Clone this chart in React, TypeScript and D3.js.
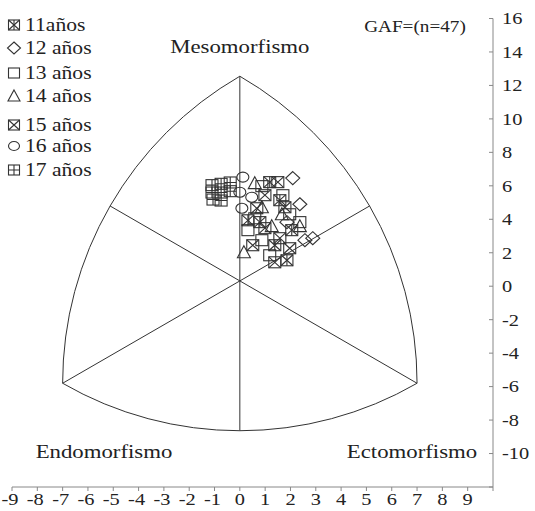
import React from "react";
import * as d3 from "d3";

// Somatocarta GAF, n = 47
const xTickLabels = [-9, -8, -7, -6, -5, -4, -3, -2, -1, 0, 1, 2, 3, 4, 5, 6, 7, 8, 9];
const yTickLabels = [-10, -8, -6, -4, -2, 0, 2, 4, 6, 8, 10, 12, 14, 16];
const legendLabels = ["11años", "12 años", "13 años", "14 años", "15 años", "16 años", "17 años"];
const markerKinds = ["sqXBar", "diamond", "square", "triangle", "sqX", "circle", "sqPlus"];

// X = ecto - endo, Y = 2*meso - (endo + ecto)
const age11X = [1.18, 1.58, 0.79, 1.38, 1.86, 0.32, 2.05];
const age11Y = [6.22, 5.14, 3.83, 2.45, 1.55, 3.94, 3.35];
const age12X = [2.09, 2.37, 2.88, 2.57, 1.86];
const age12Y = [6.46, 4.9, 2.87, 2.75, 3.83];
const age13X = [0.87, 0.59, 0.87, 1.97, 2.37, 1.7, 1.18, 0.32];
const age13Y = [5.98, 4.06, 2.75, 4.3, 3.83, 5.44, 1.85, 3.35];
const age14X = [0.59, 0.87, 1.26, 0.16, 1.66, 2.37];
const age14Y = [6.16, 4.72, 3.59, 2.03, 4.3, 3.59];
const age15X = [1.5, 0.99, 1.78, 0.99, 0.51, 1.58, 1.97, 1.38, 0.67];
const age15Y = [6.22, 5.44, 4.72, 3.47, 2.45, 2.87, 2.27, 1.43, 4.66];
const age16X = [0.12, 0.0, 0.47, 0.08];
const age16Y = [6.52, 5.62, 5.32, 4.66];
const age17X = [-1.1, -0.74, -0.38, -1.1, -0.74, -0.38, -0.74, -1.06];
const age17Y = [6.04, 6.12, 6.2, 5.6, 5.6, 5.68, 5.12, 5.18];

const seriesX = [age11X, age12X, age13X, age14X, age15X, age16X, age17X];
const seriesY = [age11Y, age12Y, age13Y, age14Y, age15Y, age16Y, age17Y];

// vertices of the somatochart (endo, meso, ecto)
const vertexX = [-7.0, 0, 7.0];
const vertexY = [-5.8, 12.55, -5.8];

const FONT = "'Liberation Serif', 'Times New Roman', serif";
const STRETCH = 1.2; // the original figure is stretched horizontally
const INK = "#333";

const Marker = ({ kind, cx, cy, w = 12, h = 11 }: { kind: string; cx: number; cy: number; w?: number; h?: number }) => {
  const hw = w / 2, hh = h / 2;
  const common = { fill: "none", stroke: INK, strokeWidth: 1.1 };
  const box = <rect x={cx - hw} y={cy - hh} width={w} height={h} {...common} />;
  const cross = <path d={`M${cx - hw},${cy - hh}L${cx + hw},${cy + hh}M${cx + hw},${cy - hh}L${cx - hw},${cy + hh}`} {...common} />;
  if (kind === "square") return box;
  if (kind === "sqX") return <g>{box}{cross}</g>;
  if (kind === "sqXBar")
    return <g>{box}{cross}<path d={`M${cx},${cy - hh}V${cy + hh}`} {...common} /></g>;
  if (kind === "sqPlus")
    return <g>{box}<path d={`M${cx},${cy - hh}V${cy + hh}M${cx - hw},${cy}H${cx + hw}`} {...common} /></g>;
  if (kind === "diamond")
    return <path d={`M${cx},${cy - hh - 1}L${cx + hw + 1},${cy}L${cx},${cy + hh + 1}L${cx - hw - 1},${cy}Z`} {...common} />;
  if (kind === "triangle")
    return <path d={`M${cx},${cy - hh - 1}L${cx + hw + 0.5},${cy + hh}L${cx - hw - 0.5},${cy + hh}Z`} {...common} />;
  return <ellipse cx={cx} cy={cy} rx={hw} ry={hh - 0.5} {...common} />;
};

const SText = ({ x, y, size, anchor = "start", children }: any) => (
  <text
    transform={`translate(${x},${y}) scale(${STRETCH},1)`}
    fontFamily={FONT}
    fontSize={size}
    textAnchor={anchor}
    dominantBaseline="central"
    fill="#222"
  >
    {children}
  </text>
);

export default function App() {
  const width = 535, height = 511;
  const x = d3.scaleLinear().domain([-9, 10]).range([12, 493]);
  const y = d3.scaleLinear().domain([-12, 16]).range([487, 18.5]);

  // somatochart outline (Reuleaux triangle in screen space)
  const pts = vertexX.map((vx, i) => [x(vx), y(vertexY[i])]);
  const [L, T, R] = pts;
  const dist = (a: number[], b: number[]) => Math.hypot(a[0] - b[0], a[1] - b[1]);
  const r = Math.max(dist(L, T), dist(T, R), dist(R, L));
  const c = [(L[0] + T[0] + R[0]) / 3, (L[1] + T[1] + R[1]) / 3];

  const arcD = `M${L[0]},${L[1]}A${r},${r} 0 0 1 ${T[0]},${T[1]}A${r},${r} 0 0 1 ${R[0]},${R[1]}A${r},${r} 0 0 1 ${L[0]},${L[1]}`;

  const axes = pts.map((v) => {
    const d = dist(v, c);
    const ux = (c[0] - v[0]) / d, uy = (c[1] - v[1]) / d;
    return [v[0], v[1], v[0] + ux * r, v[1] + uy * r];
  });

  const xAxisTicks = d3.range(-9, 11);
  const yAxisTicks = d3.range(-12, 17, 2);
  const legendY = [25, 48, 73, 96, 125, 146, 170];

  return (
    <svg width={width} height={height} style={{ position: "absolute", left: 0, top: 0, background: "#fff" }}>
      {/* outline and sector lines */}
      <path d={arcD} fill="none" stroke={INK} strokeWidth={1} />
      {axes.map((a, i) => (
        <line key={i} x1={a[0]} y1={a[1]} x2={a[2]} y2={a[3]} stroke={INK} strokeWidth={1} />
      ))}

      {/* axes */}
      <g stroke="#888" strokeWidth={1}>
        <line x1={x(-9)} x2={x(10)} y1={y(-12)} y2={y(-12)} />
        {xAxisTicks.map((t) => (
          <line key={t} x1={x(t)} x2={x(t)} y1={y(-12)} y2={y(-12) + 4} />
        ))}
        <line x1={x(10)} x2={x(10)} y1={y(-12)} y2={y(16)} />
        {yAxisTicks.map((t) => (
          <line key={t} x1={x(10) - 4} x2={x(10)} y1={y(t)} y2={y(t)} />
        ))}
      </g>
      {xTickLabels.map((t) => (
        <SText key={t} x={x(t) - (t < 0 ? 2 : 0)} y={499} size={17} anchor="middle">
          {t}
        </SText>
      ))}
      {yTickLabels.map((t) => (
        <SText key={t} x={502} y={y(t)} size={17}>
          {t}
        </SText>
      ))}

      {/* titles */}
      <SText x={x(0)} y={47} size={19} anchor="middle">Mesomorfismo</SText>
      <SText x={104} y={452} size={19} anchor="middle">Endomorfismo</SText>
      <SText x={412} y={452} size={19} anchor="middle">Ectomorfismo</SText>
      <SText x={415} y={27} size={16} anchor="middle">GAF=(n=47)</SText>

      {/* data */}
      {seriesX.map((xs, si) =>
        xs.map((vx, i) => (
          <Marker key={`${si}-${i}`} kind={markerKinds[si]} cx={x(vx)} cy={y(seriesY[si][i])} />
        ))
      )}

      {/* legend */}
      {legendLabels.map((lab, i) => (
        <g key={lab}>
          <Marker kind={markerKinds[i]} cx={14} cy={legendY[i]} w={11} h={10} />
          <SText x={25} y={legendY[i]} size={18}>{lab}</SText>
        </g>
      ))}
    </svg>
  );
}
